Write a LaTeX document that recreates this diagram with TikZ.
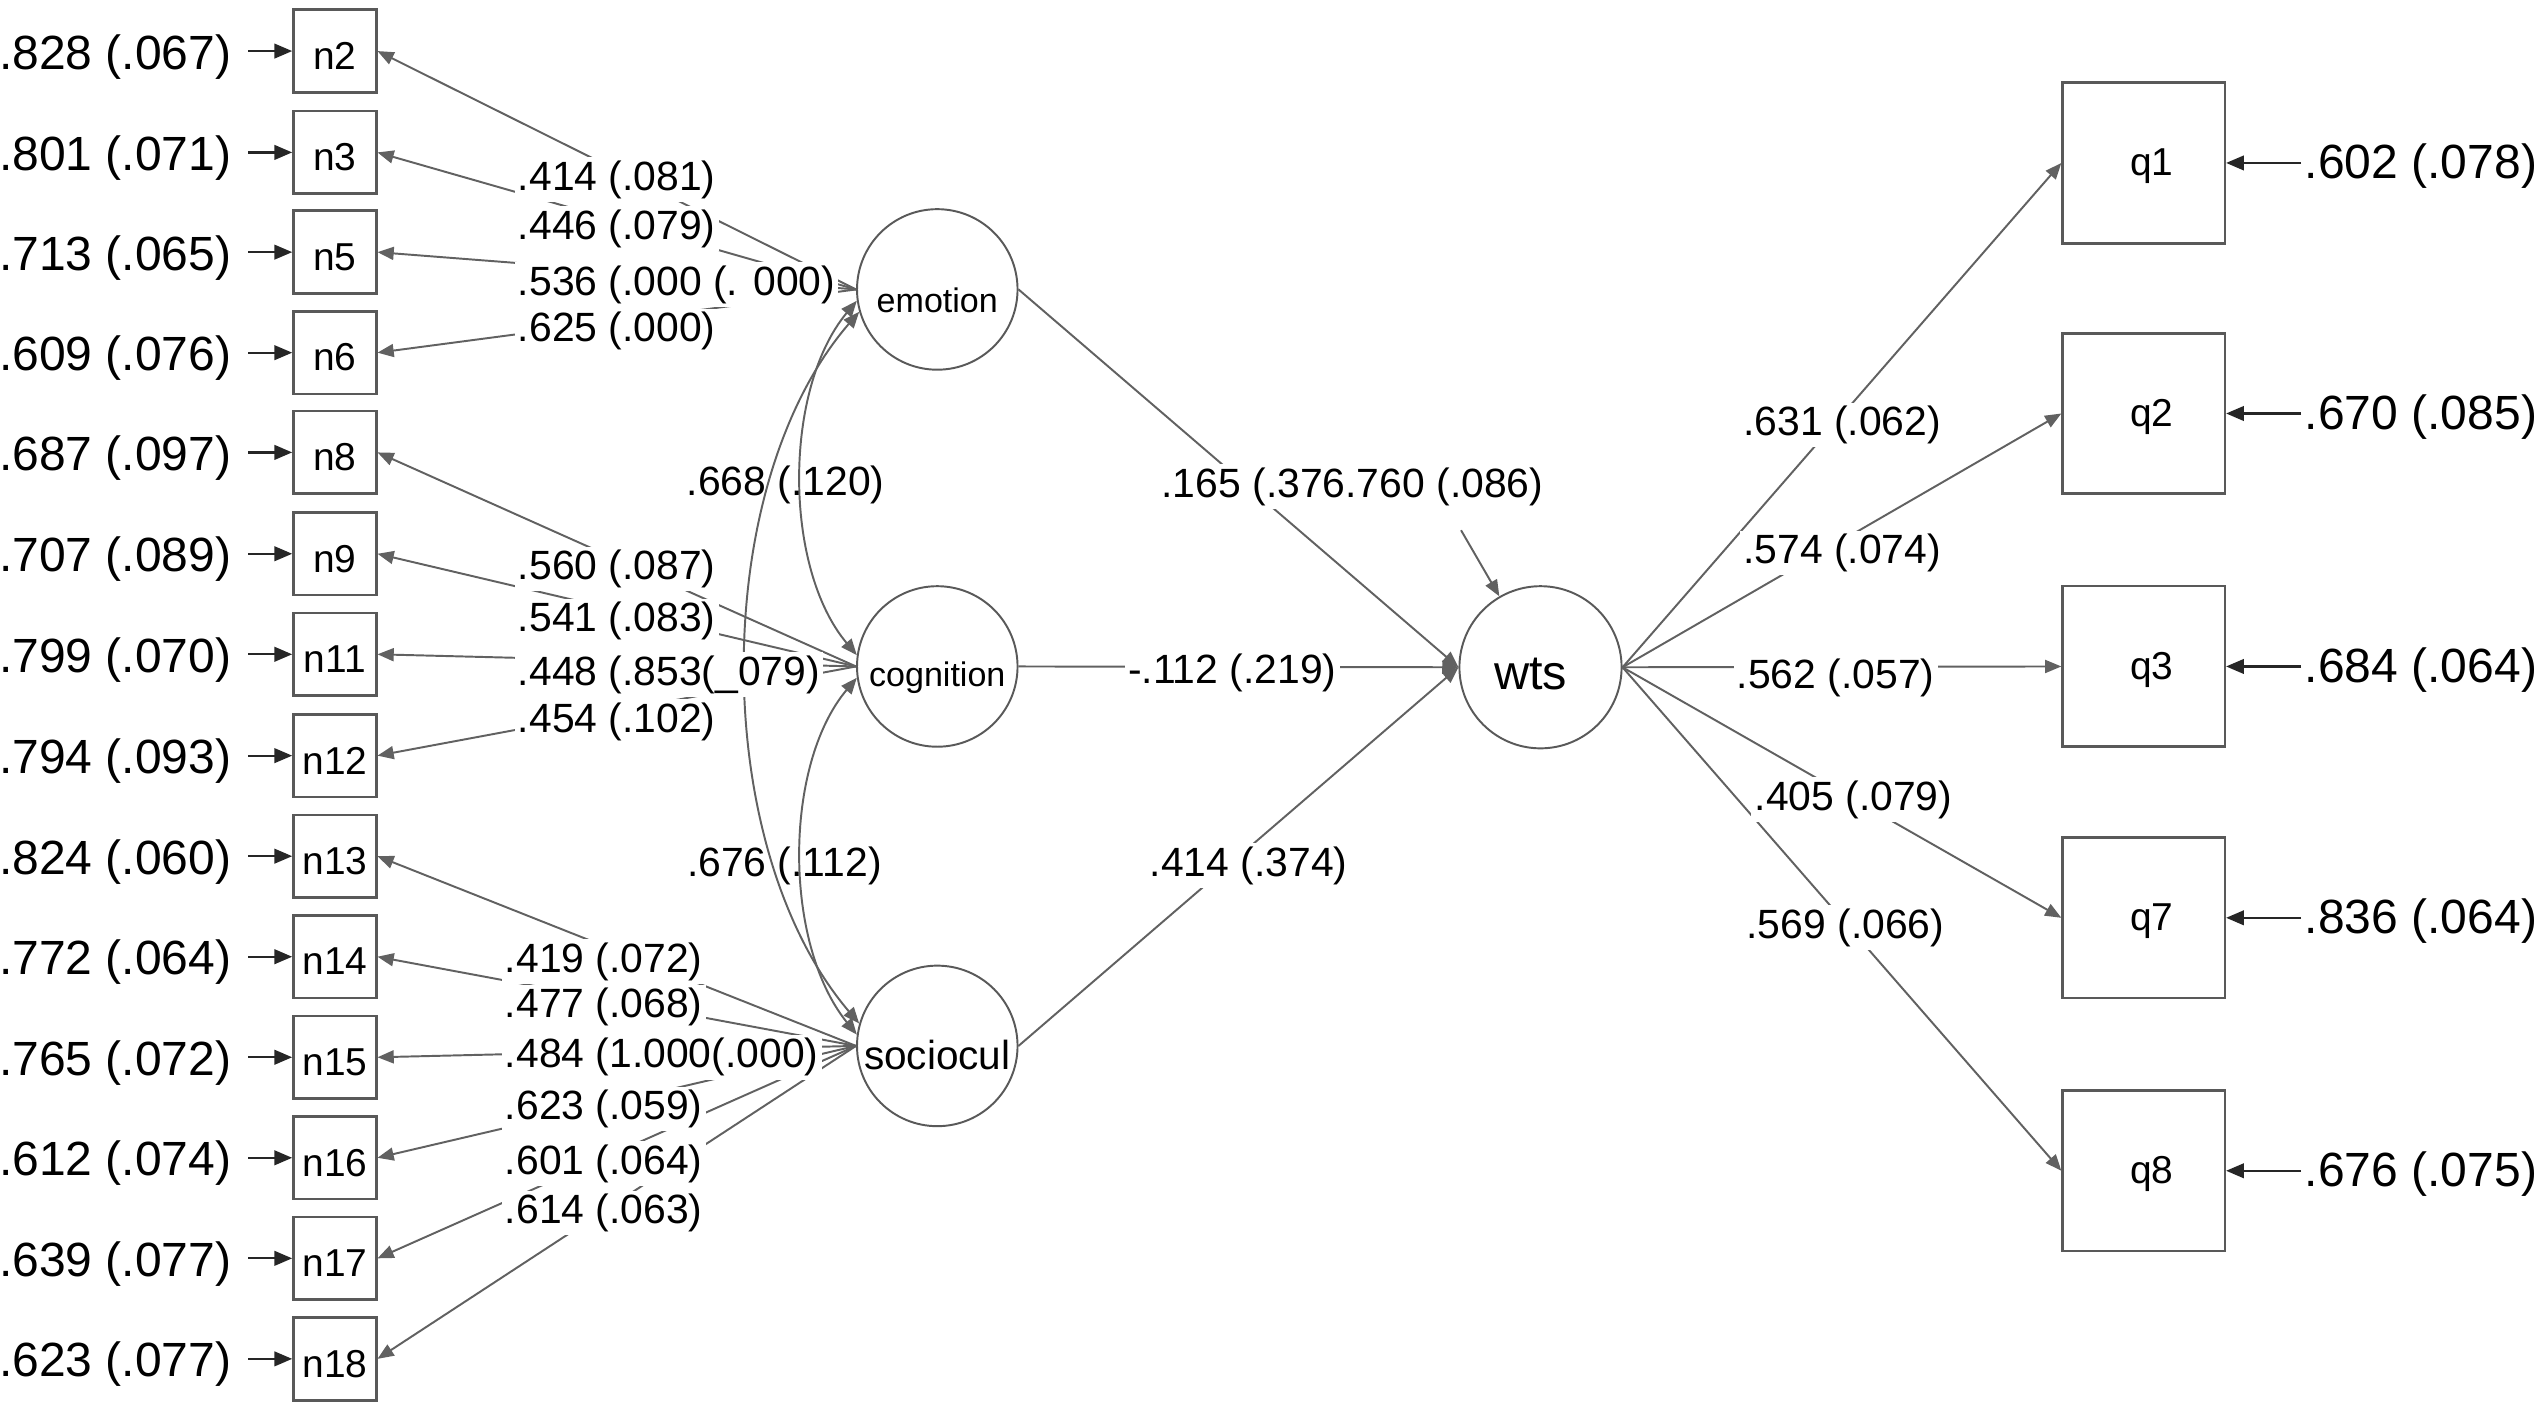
\documentclass[tikz,border=0pt]{standalone}
\usepackage{fontspec}
\setmainfont{Liberation Sans}
\usetikzlibrary{arrows.meta}
\tikzset{
  obs/.style={draw=black!65, line width=0.8pt, minimum width=25.5pt, minimum height=25.5pt, inner sep=0pt},
  qbox/.style={draw=black!65, line width=0.8pt, minimum width=50pt, minimum height=49.5pt, inner sep=0pt},
  lat/.style={circle, draw=black!65, line width=0.6pt, minimum size=49.5pt, inner sep=0pt},
  boxlbl/.style={font=\fontsize{12}{14}\selectfont, inner sep=0pt},
  plab/.style={fill=white, inner sep=1pt, font=\fontsize{12.6}{14}\selectfont},
  clab/.style={inner sep=1pt, font=\fontsize{12.6}{14}\selectfont},
  elabL/.style={inner xsep=5pt, inner ysep=0pt, font=\fontsize{14.8}{16}\selectfont},
  elabR/.style={inner xsep=1pt, inner ysep=0pt, font=\fontsize{14.8}{16}\selectfont},
  ln/.style={draw=black!62, line width=0.6pt, -{Triangle[length=5pt,width=4pt]}},
  resarr/.style={draw=black!85, line width=0.7pt, -{Triangle[length=5.5pt,width=4.5pt]}},
  cov/.style={draw=black!62, line width=0.6pt, {Triangle[length=5pt,width=4pt]}-{Triangle[length=5pt,width=4pt]}},
}
\begin{document}
\begin{tikzpicture}[x=0.5pt,y=-0.5pt]
\useasboundingbox (0,0) rectangle (1567,870);

% ---- left indicators with residuals
\foreach \nm/\yy/\ee in {n2/31.5/.828 (.067), n3/94/.801 (.071), n5/155.5/.713 (.065), n6/217.5/.609 (.076),
  n8/279/.687 (.097), n9/341.5/.707 (.089), n11/403.5/.799 (.070), n12/466/.794 (.093),
  n13/528/.824 (.060), n14/590/.772 (.064), n15/652/.765 (.072), n16/714/.612 (.074),
  n17/776/.639 (.077), n18/838/.623 (.077)}{
  \node[obs, label={[boxlbl, yshift=-1.5pt]center:\nm}] (\nm) at (206.5,\yy) {};
  \node[elabL, anchor=east] (e\nm) at (153,\yy+3.5) {\ee};
  \draw[resarr] (e\nm.east |- \nm) -- (\nm);
}

% ---- latent variables
\node[lat, label={[font=\fontsize{10.5}{12}\selectfont, yshift=-3.5pt]center:emotion}] (emotion) at (578,178.5) {};
\node[lat, label={[font=\fontsize{10.5}{12}\selectfont, yshift=-3.5pt]center:cognition}] (cognition) at (578,411) {};
\node[lat, label={[font=\fontsize{12.5}{14}\selectfont, yshift=-2.8pt]center:sociocul}] (sociocul) at (578,645) {};
\node[lat, minimum size=50pt, label={[font=\fontsize{15}{16}\selectfont, xshift=-3pt, yshift=-2pt]center:wts}] (wts) at (950,411.5) {};

% ---- right indicators with residuals
\foreach \nm/\yy/\ee in {q1/100.5/.602 (.078), q2/255/.670 (.085), q3/411/.684 (.064), q7/566/.836 (.064), q8/722/.676 (.075)}{
  \node[qbox, label={[boxlbl, xshift=2.5pt, yshift=-1pt]center:\nm}] (\nm) at (1322,\yy) {};
  \node[elabR, anchor=west] (r\nm) at (1419,\yy+2) {\ee};
  \draw[resarr] (r\nm.west |- \nm) -- (\nm);
}

% ---- loadings
\foreach \t in {n2,n3,n5,n6} \draw[ln] (emotion.west) -- (\t.east);
\foreach \t in {n8,n9,n11,n12} \draw[ln] (cognition.west) -- (\t.east);
\foreach \t in {n13,n14,n15,n16,n17,n18} \draw[ln] (sociocul.west) -- (\t.east);
\foreach \t in {q1,q2,q3,q7,q8} \draw[ln] (wts.east) -- (\t.west);

% ---- structural paths
\draw[ln] (emotion.east) -- (wts.west);
\draw[ln] (cognition.east) -- (wts.west);
\draw[ln] (sociocul.east) -- (wts.west);
\coordinate (wtsres) at (901,327);
\draw[ln] (wtsres) -- (wts);

% ---- covariances
\draw[cov] (emotion.188) .. controls (483,240) and (483,350) .. (cognition.172);
\draw[cov] (cognition.188) .. controls (483,472) and (483,582) .. (sociocul.172);
\draw[cov] (emotion.196) .. controls (437,300) and (437,522) .. (sociocul.164);

% ---- path labels
\node[plab, anchor=west] (l1) at (317,110.7) {.414 (.081)};
\node[plab, anchor=west] (l2) at (317,141) {.446 (.079)};
\node[plab, anchor=west] (l3) at (317,175.6) {.536 (.000 (. 000)};
\node[plab, anchor=west] (l4) at (317,204) {.625 (.000)};
\node[plab, anchor=west] (l5) at (317,351) {.560 (.087)};
\node[plab, anchor=west] (l6) at (317,383) {.541 (.083)};
\node[plab, anchor=west] (l7) at (317,416) {.448 (.853(\_079)};
\node[plab, anchor=west] (l8) at (317,445) {.454 (.102)};
\node[plab, anchor=west] (l9) at (309,593) {.419 (.072)};
\node[plab, anchor=west] (l10) at (309,621) {.477 (.068)};
\node[plab, anchor=west] (l11) at (309,652) {.484 (1.000(.000)};
\node[plab, anchor=west] (l12) at (309,684) {.623 (.059)};
\node[plab, anchor=west] (l13) at (309,717.6) {.601 (.064)};
\node[plab, anchor=west] (l14) at (309,748) {.614 (.063)};

\node[plab] (s1) at (834,300) {.165 (.376.760 (.086)};
\node[plab] (s2) at (760,415) {-.112 (.219)};
\node[plab] (s3) at (770,533.7) {.414 (.374)};

\node[plab] (m1) at (1136,262) {.631 (.062)};
\node[plab] (m2) at (1136,341) {.574 (.074)};
\node[plab] (m3) at (1132,418) {.562 (.057)};
\node[plab] (m4) at (1143,493) {.405 (.079)};
\node[plab] (m5) at (1138,572) {.569 (.066)};

\node[clab] (c1) at (484.5,299) {.668 (.120)};
\node[clab] (c2) at (483.7,533.7) {.676 (.112)};
\end{tikzpicture}
\end{document}
